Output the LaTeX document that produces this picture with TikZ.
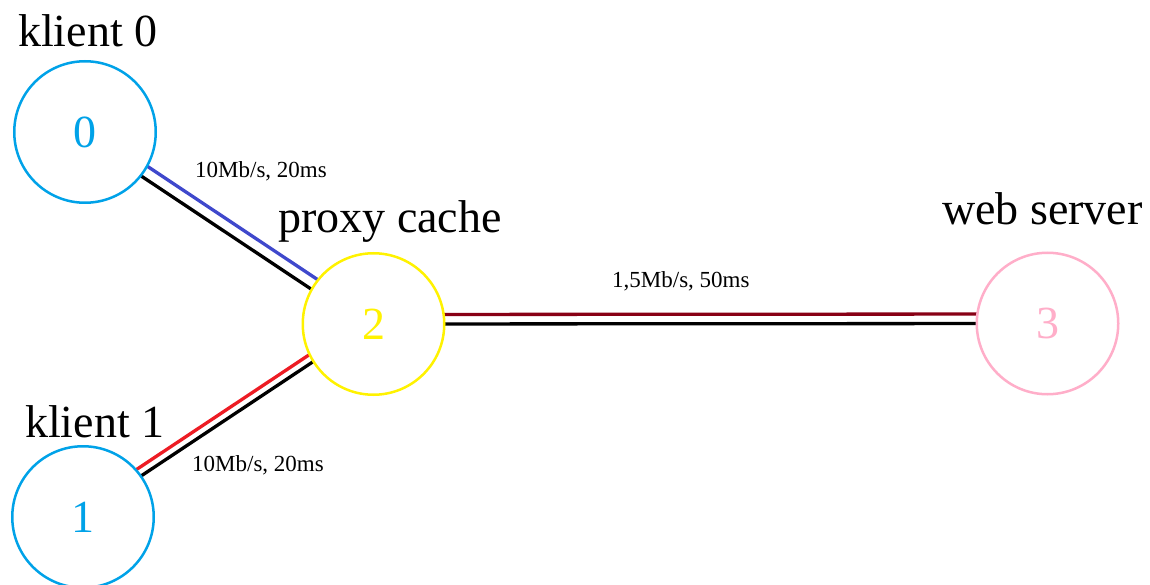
\documentclass[tikz,border=0pt]{standalone}
\usepackage{fontspec}
\setmainfont{Liberation Serif}
\usetikzlibrary{backgrounds}
\definecolor{turq}{HTML}{00A2E8}
\definecolor{pyellow}{HTML}{FFF200}
\definecolor{prose}{HTML}{FFAEC9}
\definecolor{pindigo}{HTML}{3F48CC}
\definecolor{pred}{HTML}{ED1C24}
\definecolor{pdarkred}{HTML}{880015}
\tikzset{
  netnode/.style={circle, draw=#1, text=#1, fill=white, line width=2.5pt,
    minimum size=141.5pt, inner sep=0pt, font=\fontsize{46}{46}\selectfont},
  biglabel/.style={anchor=base west, inner sep=0pt, font=\fontsize{46}{50}\selectfont},
  linklabel/.style={anchor=base west, inner sep=0pt, font=\fontsize{23}{25}\selectfont},
  linkline/.style={line width=3.3pt}
}
\begin{document}
\begin{tikzpicture}[x=1pt,y=-1pt]
\useasboundingbox (0,0) rectangle (1150,585);
\node[netnode=turq] (n0) at (85,132) {0};
\node[netnode=turq] (n1) at (83,517) {1};
\node[netnode=pyellow] (n2) at (373.5,324) {2};
\node[netnode=prose] (n3) at (1047.5,323.5) {3};
\begin{scope}[on background layer]
  \draw[linkline, black] ([shift={(-3,4.6)}]n0.center) -- ([shift={(-3,4.6)}]n2.center);
  \draw[linkline, pindigo] ([shift={(3.3,-5)}]n0.center) -- ([shift={(3.3,-5)}]n2.center);
  \draw[linkline, black] ([shift={(-1.1,-1.7)}]n1.center) -- ([shift={(-1.1,-1.7)}]n2.center);
  \draw[linkline, pred] ([shift={(-5.5,-8.3)}]n1.center) -- ([shift={(-5.5,-8.3)}]n2.center);
  \draw[linkline, black] (n2.center) -- (n3.center);
  \draw[linkline, pdarkred] ([shift={(0,-9.5)}]n2.center) -- ([shift={(0,-9.5)}]n3.center);
\end{scope}
\node[biglabel] (l0) at (18,47) {klient 0};
\node[biglabel] (l1) at (25,437) {klient 1};
\node[biglabel] (l2) at (278,233) {proxy cache};
\node[biglabel] (l3) at (942,225) {web server};
\node[linklabel] (e02) at (195,178) {10Mb/s, 20ms};
\node[linklabel] (e12) at (192,471) {10Mb/s, 20ms};
\node[linklabel] (e23) at (612,287) {1,5Mb/s, 50ms};
\end{tikzpicture}
\end{document}
